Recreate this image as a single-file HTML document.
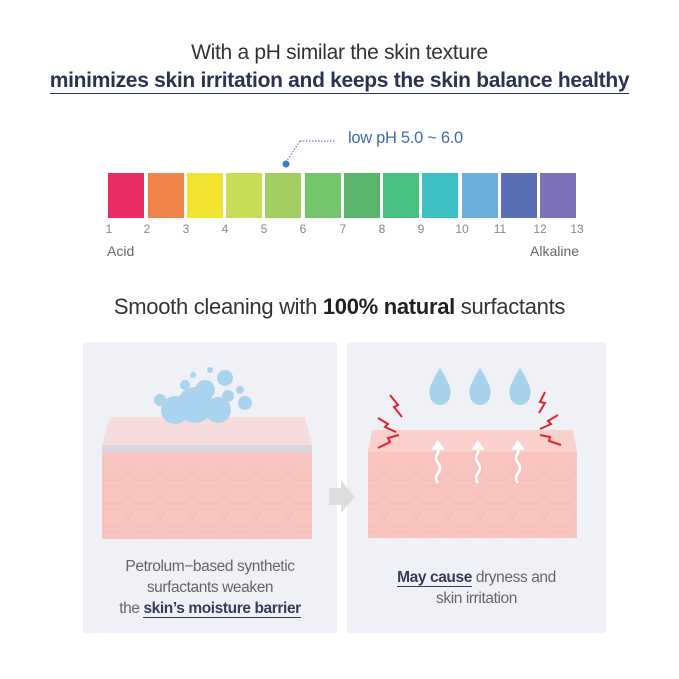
<!DOCTYPE html>
<html><head><style>
body{margin:0;width:679px;height:679px;background:#fff;font-family:"Liberation Sans",sans-serif;position:relative;overflow:hidden}
.t{position:absolute;white-space:nowrap;text-align:center;left:0;width:679px}
.bar{position:absolute;top:173px;height:45px;width:36px}
.n{position:absolute;top:222px;font-size:12px;color:#888;width:20px;text-align:center}
.panel{position:absolute;top:342px;height:291px;background:#f0f1f6;border-radius:3px}
.cap{position:absolute;font-size:15.5px;color:#666;text-align:center;line-height:21px;letter-spacing:-0.4px}
.cap b{color:#333d55;border-bottom:1px solid #333d55}
</style></head><body>
<div class="t" style="top:41px;font-size:21px;color:#333;letter-spacing:-0.3px">With a pH similar the skin texture</div>
<div class="t" style="top:69px;font-size:21px;color:#2a3452;font-weight:bold;letter-spacing:-0.3px"><span style="border-bottom:1.5px solid #2a3452;padding-bottom:1px">minimizes skin irritation and keeps the skin balance healthy</span></div>
<div style="position:absolute;left:348px;top:129px;font-size:16.5px;color:#3d6ab0;letter-spacing:-0.3px">low pH 5.0 ~ 6.0</div>
<svg style="position:absolute;left:0;top:0" width="679" height="679">
<line x1="300" y1="141" x2="336" y2="141" stroke="#3d6ab0" stroke-dasharray="1.5,1.5"/>
<line x1="300" y1="141" x2="286" y2="162" stroke="#3d6ab0" stroke-dasharray="1.5,1.5"/>
<circle cx="286" cy="164" r="3.5" fill="#3d7ad8"/>
</svg>
<div class="bar" style="left:108px;background:#ea2d62"></div>
<div class="bar" style="left:148px;background:#f0844a"></div>
<div class="bar" style="left:187px;background:#f2e431"></div>
<div class="bar" style="left:226px;background:#c9dc58"></div>
<div class="bar" style="left:265px;background:#a2cd63"></div>
<div class="bar" style="left:305px;background:#73c66b"></div>
<div class="bar" style="left:344px;background:#59b56a"></div>
<div class="bar" style="left:383px;background:#48c084"></div>
<div class="bar" style="left:422px;background:#3dc0c3"></div>
<div class="bar" style="left:462px;background:#6ab0da"></div>
<div class="bar" style="left:501px;background:#5a6fb6"></div>
<div class="bar" style="left:540px;background:#7b72b8"></div>
<div class="n" style="left:99px">1</div><div class="n" style="left:137px">2</div><div class="n" style="left:176px">3</div><div class="n" style="left:215px">4</div><div class="n" style="left:254px">5</div><div class="n" style="left:293px">6</div><div class="n" style="left:333px">7</div><div class="n" style="left:372px">8</div><div class="n" style="left:411px">9</div><div class="n" style="left:452px">10</div><div class="n" style="left:490px">11</div><div class="n" style="left:530px">12</div><div class="n" style="left:567px">13</div>
<div style="position:absolute;left:107px;top:243px;font-size:14px;color:#666">Acid</div>
<div style="position:absolute;left:530px;top:243px;font-size:14px;color:#666">Alkaline</div>
<div class="t" style="top:294px;font-size:22px;color:#333;letter-spacing:-0.3px">Smooth cleaning with <b style="color:#222">100% natural</b> surfactants</div>
<div class="panel" style="left:83px;width:254px"></div>
<div class="panel" style="left:347px;width:259px"></div>
<svg style="position:absolute;left:0;top:0" width="679" height="679">
<defs><pattern id="cells" width="32" height="23" patternUnits="userSpaceOnUse"><ellipse cx="16" cy="12" rx="15" ry="9" fill="none" stroke="#f3b9b5" stroke-width="0.8"/></pattern></defs>
<polygon points="110,417 305,417 312,445 102,445" fill="#f6dcdc"/>
<rect x="102" y="445" width="210" height="8" fill="#dcd4de"/>
<rect x="102" y="453" width="210" height="86" fill="#f7c4c0"/>
<rect x="102" y="468" width="210" height="71" fill="url(#cells)"/>
<g fill="#a9d3ef">
<circle cx="195" cy="405" r="18"/><circle cx="175" cy="410" r="14"/><circle cx="218" cy="410" r="13"/><circle cx="205" cy="390" r="10"/><circle cx="228" cy="396" r="6"/><circle cx="160" cy="400" r="6"/><circle cx="225" cy="378" r="8"/><circle cx="185" cy="385" r="5"/><circle cx="245" cy="403" r="7"/><circle cx="240" cy="390" r="4"/><circle cx="210" cy="370" r="3"/><circle cx="193" cy="375" r="3"/></g>
<polygon points="372,430 573,430 577,452 368,452" fill="#f9d0cb"/>
<rect x="368" y="452" width="209" height="86" fill="#f7c4c0"/>
<rect x="368" y="468" width="209" height="70" fill="url(#cells)"/>
<polygon points="329,488 341,488 341,480 355,497 341,513 341,505 329,505" fill="#ddd"/>
<g fill="#a7d2ee"><path d="M440,368 Q427,388 430,395 A10,10 0 0 0 450,395 Q453,388 440,368Z"/><path d="M480,368 Q467,388 470,395 A10,10 0 0 0 490,395 Q493,388 480,368Z"/><path d="M520,368 Q507,388 510,395 A10,10 0 0 0 530,395 Q533,388 520,368Z"/></g>
<g fill="none" stroke="#fff" stroke-width="2.5"><path d="M438,483 q-4,-5 0,-10 q4,-5 0,-10 q-4,-5 0,-10 l0,-10"/><path d="M478,483 q-4,-5 0,-10 q4,-5 0,-10 q-4,-5 0,-10 l0,-10"/><path d="M518,483 q-4,-5 0,-10 q4,-5 0,-10 q-4,-5 0,-10 l0,-10"/></g>
<g fill="#fff"><polygon points="438,440 431,450 445,450"/><polygon points="478,440 471,450 485,450"/><polygon points="518,440 511,450 525,450"/></g>
<g fill="none" stroke="#e0242c" stroke-width="2"><path d="M390,395 l8,10 l-4,2 l8,10"/><path d="M378,418 l10,6 l-3,3 l11,5"/><path d="M378,448 l12,-6 l-2,-4 l11,-3"/><path d="M545,392 l-5,10 l5,1 l-6,10"/><path d="M558,415 l-10,6 l3,3 l-11,5"/><path d="M540,435 l10,2 l-1,4 l12,4"/></g>
</svg>
<div class="cap" style="left:83px;width:254px;top:556px">Petrolum−based synthetic<br>surfactants weaken<br>the <b>skin’s moisture barrier</b></div>
<div class="cap" style="left:347px;width:259px;top:567px"><b>May cause</b> dryness and<br>skin irritation</div>
</body></html>
